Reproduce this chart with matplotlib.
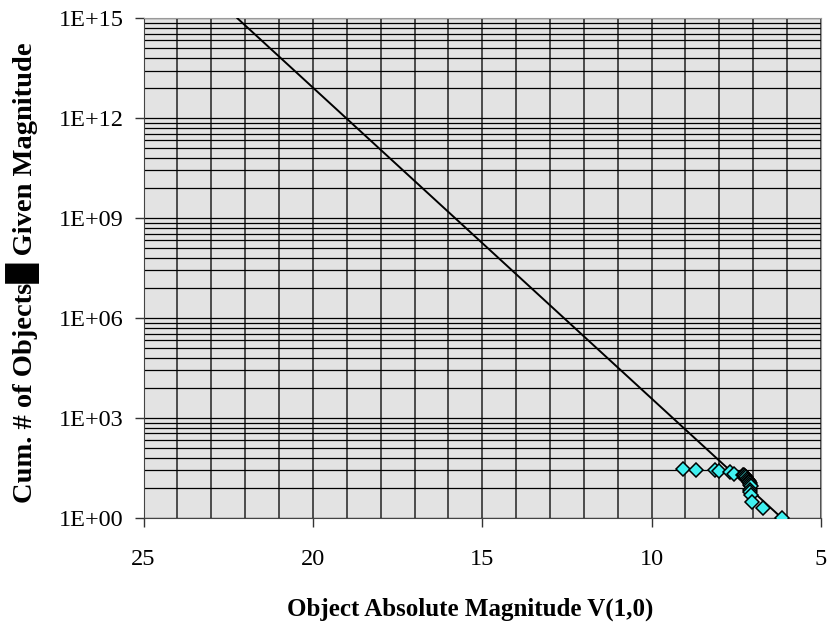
import numpy as np
import matplotlib.pyplot as plt
from matplotlib.ticker import FixedLocator, FuncFormatter, NullFormatter

# observed objects: absolute magnitude vs cumulative count
obj_mag = [9.07, 8.70, 8.13, 8.00, 7.67, 7.57, 7.30, 7.27, 7.24, 7.21, 7.18, 7.15,
           7.13, 7.11, 7.09, 7.08, 7.06, 7.10, 7.08, 7.05, 7.02, 6.70, 6.16]
obj_count = [29, 28, 27, 26, 24, 21, 20, 19, 18, 17, 15, 14,
             13, 12, 11, 10, 9, 7, 6, 5, 3, 2, 1]

# power-law fit line
fit_mag = [6.16, 22.23]
fit_count = [1, 1e15]

x_ticks = [25, 20, 15, 10, 5]
y_ticks = [1e0, 1e3, 1e6, 1e9, 1e12, 1e15]

# y axis uses base 1000 steps; minor lines at k^3 within each step
minor_y = [k ** 3 * t for t in y_ticks[:-1] for k in range(2, 10)]

plt.rcParams['font.family'] = ['Liberation Serif', 'DejaVu Sans']

fig = plt.figure(figsize=(8.3, 6.3), dpi=100)
ax = fig.add_axes([0.173, 0.178, 0.816, 0.793])
ax.set_facecolor('#E3E3E3')

ax.plot(fit_mag, fit_count, color='black', lw=1.4, zorder=3)
ax.plot(obj_mag, obj_count, linestyle='none', marker='D', markersize=7.5,
        markerfacecolor='#40F0F0', markeredgecolor='black', markeredgewidth=1.1, zorder=4)

ax.set_yscale('log')
ax.set_xlim(25, 5)
ax.set_ylim(1, 1e15)

ax.xaxis.set_major_locator(FixedLocator(x_ticks))
ax.xaxis.set_minor_locator(FixedLocator(np.arange(5, 26, 1)))
ax.yaxis.set_major_locator(FixedLocator(y_ticks))
ax.yaxis.set_minor_locator(FixedLocator(minor_y))
ax.yaxis.set_major_formatter(FuncFormatter(lambda v, p: '1E+%02d' % round(np.log10(v))))
ax.yaxis.set_minor_formatter(NullFormatter())

ax.grid(which='both', axis='x', color='#222222', lw=1.1, zorder=1)
ax.grid(which='both', axis='y', color='black', lw=0.9, zorder=1)
ax.set_axisbelow(True)

ax.tick_params(which='major', direction='out', length=6.5, width=1, color='#333333',
               labelsize=17.5)
ax.tick_params(which='minor', length=0)
ax.tick_params(axis='y', pad=8)
ax.tick_params(axis='x', pad=16)

for side in ['left', 'bottom']:
    ax.spines[side].set_color('#444444')
for side in ['top', 'right']:
    ax.spines[side].set_color('#999999')

ax.set_xlabel('Object Absolute Magnitude V(1,0)', fontsize=18, fontweight='bold', labelpad=20)
ax.xaxis.label.set_x(0.482)
ax.set_ylabel('Cum. # of Objects\u2588 Given Magnitude', fontsize=20.5, fontweight='bold', labelpad=13)
ax.yaxis.label.set_y(0.49)

fig.savefig('out.png', dpi=100)
